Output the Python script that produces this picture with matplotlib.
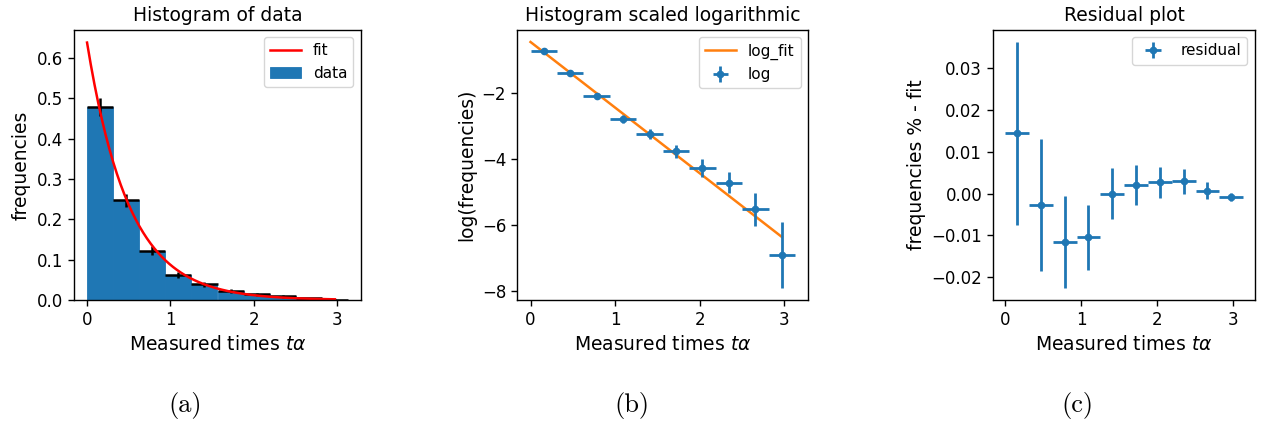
import numpy as np
import matplotlib
matplotlib.use("Agg")
import matplotlib.pyplot as plt

# Histogram of measured decay times (10 bins on [0, 3.13])
bin_edges_lo = 0.0
bin_edges_hi = 3.13
n_bins = 10
frequencies = [0.478, 0.247, 0.122, 0.062, 0.039, 0.023, 0.0138, 0.0089, 0.0040, 0.0010]
freq_err = [0.0218, 0.0157, 0.0110, 0.0078, 0.0062, 0.0048, 0.0037, 0.0029, 0.0020, 0.0010]
residuals = [0.0144, -0.0027, -0.0115, -0.0105, 0.0000, 0.0020, 0.0027, 0.0029, 0.0007, -0.0008]

# Exponential fit  f(t) = A * exp(-k t)
fit_amp = 0.638
fit_rate = 1.99

edges = np.linspace(bin_edges_lo, bin_edges_hi, n_bins + 1)
width = edges[1] - edges[0]
centers = edges[:-1] + width / 2
freq = np.array(frequencies)
ferr = np.array(freq_err)
res = np.array(residuals)

t_fit = np.linspace(0, centers[-1], 200)
y_fit = fit_amp * np.exp(-fit_rate * t_fit)
log_fit = np.log(fit_amp) - fit_rate * t_fit

log_freq = np.log(freq)
log_err = ferr / freq

blue = "#1f77b4"
orange = "#ff7f0e"

plt.rcParams.update({
    "font.family": "DejaVu Sans",
    "axes.linewidth": 1.0,
    "xtick.labelsize": 12,
    "ytick.labelsize": 12,
    "xtick.major.width": 1.0,
    "ytick.major.width": 1.0,
    "xtick.major.size": 4.5,
    "ytick.major.size": 4.5,
    "legend.fontsize": 11,
})

W, H = 1261, 423
fig = plt.figure(figsize=(W / 100, H / 100), dpi=100)

def px_axes(left, right, top=29.7, bottom=300):
    return fig.add_axes([left / W, (H - bottom) / H, (right - left) / W, (bottom - top) / H])

title_fs = 13.5
label_fs = 13.5
xlabel = r"Measured times $t\alpha$"

# (a) histogram with fit
ax1 = px_axes(74, 361)
ax1.bar(edges[:-1], freq, width=width, align="edge", color=blue,
        edgecolor=blue, linewidth=0.6, label="data")
ax1.errorbar(centers, freq, yerr=ferr, xerr=width / 2, fmt="none", ecolor="k", elinewidth=1.8)
ax1.plot(t_fit, y_fit, color="red", lw=1.8, label="fit")
ax1.set_title("Histogram of data", fontsize=title_fs)
ax1.set_xlabel(xlabel, fontsize=label_fs)
ax1.set_ylabel("frequencies", fontsize=label_fs)
ax1.set_yticks([0.0, 0.1, 0.2, 0.3, 0.4, 0.5, 0.6])
ax1.set_xticks([0, 1, 2, 3])
ax1.legend(loc="upper right")

# (b) logarithmic scale with linear fit
ax2 = px_axes(517.3, 808.3)
ax2.plot(t_fit, log_fit, color=orange, lw=1.8, label="log_fit")
ax2.errorbar(centers, log_freq, yerr=log_err, xerr=width / 2, fmt="o", color=blue,
             ms=4.5, elinewidth=2.0, label="log")
ax2.set_title("Histogram scaled logarithmic", fontsize=title_fs)
ax2.set_xlabel(xlabel, fontsize=label_fs)
ax2.set_ylabel("log(frequencies)", fontsize=label_fs)
ax2.set_yticks([-2, -4, -6, -8])
ax2.set_xticks([0, 1, 2, 3])
ax2.legend(loc="upper right")

# (c) residuals
ax3 = px_axes(993.3, 1255)
ax3.errorbar(centers, res, yerr=ferr, xerr=width / 2, fmt="o", color=blue,
             ms=4.5, elinewidth=2.0, label="residual")
ax3.set_title("Residual plot", fontsize=title_fs)
ax3.set_xlabel(xlabel, fontsize=label_fs)
ax3.set_ylabel("frequencies % - fit", fontsize=label_fs)
ax3.set_yticks([-0.02, -0.01, 0.0, 0.01, 0.02, 0.03])
ax3.set_xticks([0, 1, 2, 3])
ax3.legend(loc="upper right")

# sub-figure captions
for x, s in [(185, "(a)"), (632, "(b)"), (1077, "(c)")]:
    fig.text(x / W, (H - 405) / H, s, family="cmr10", fontsize=19, ha="center", va="center")

fig.savefig("out.png", dpi=100)
